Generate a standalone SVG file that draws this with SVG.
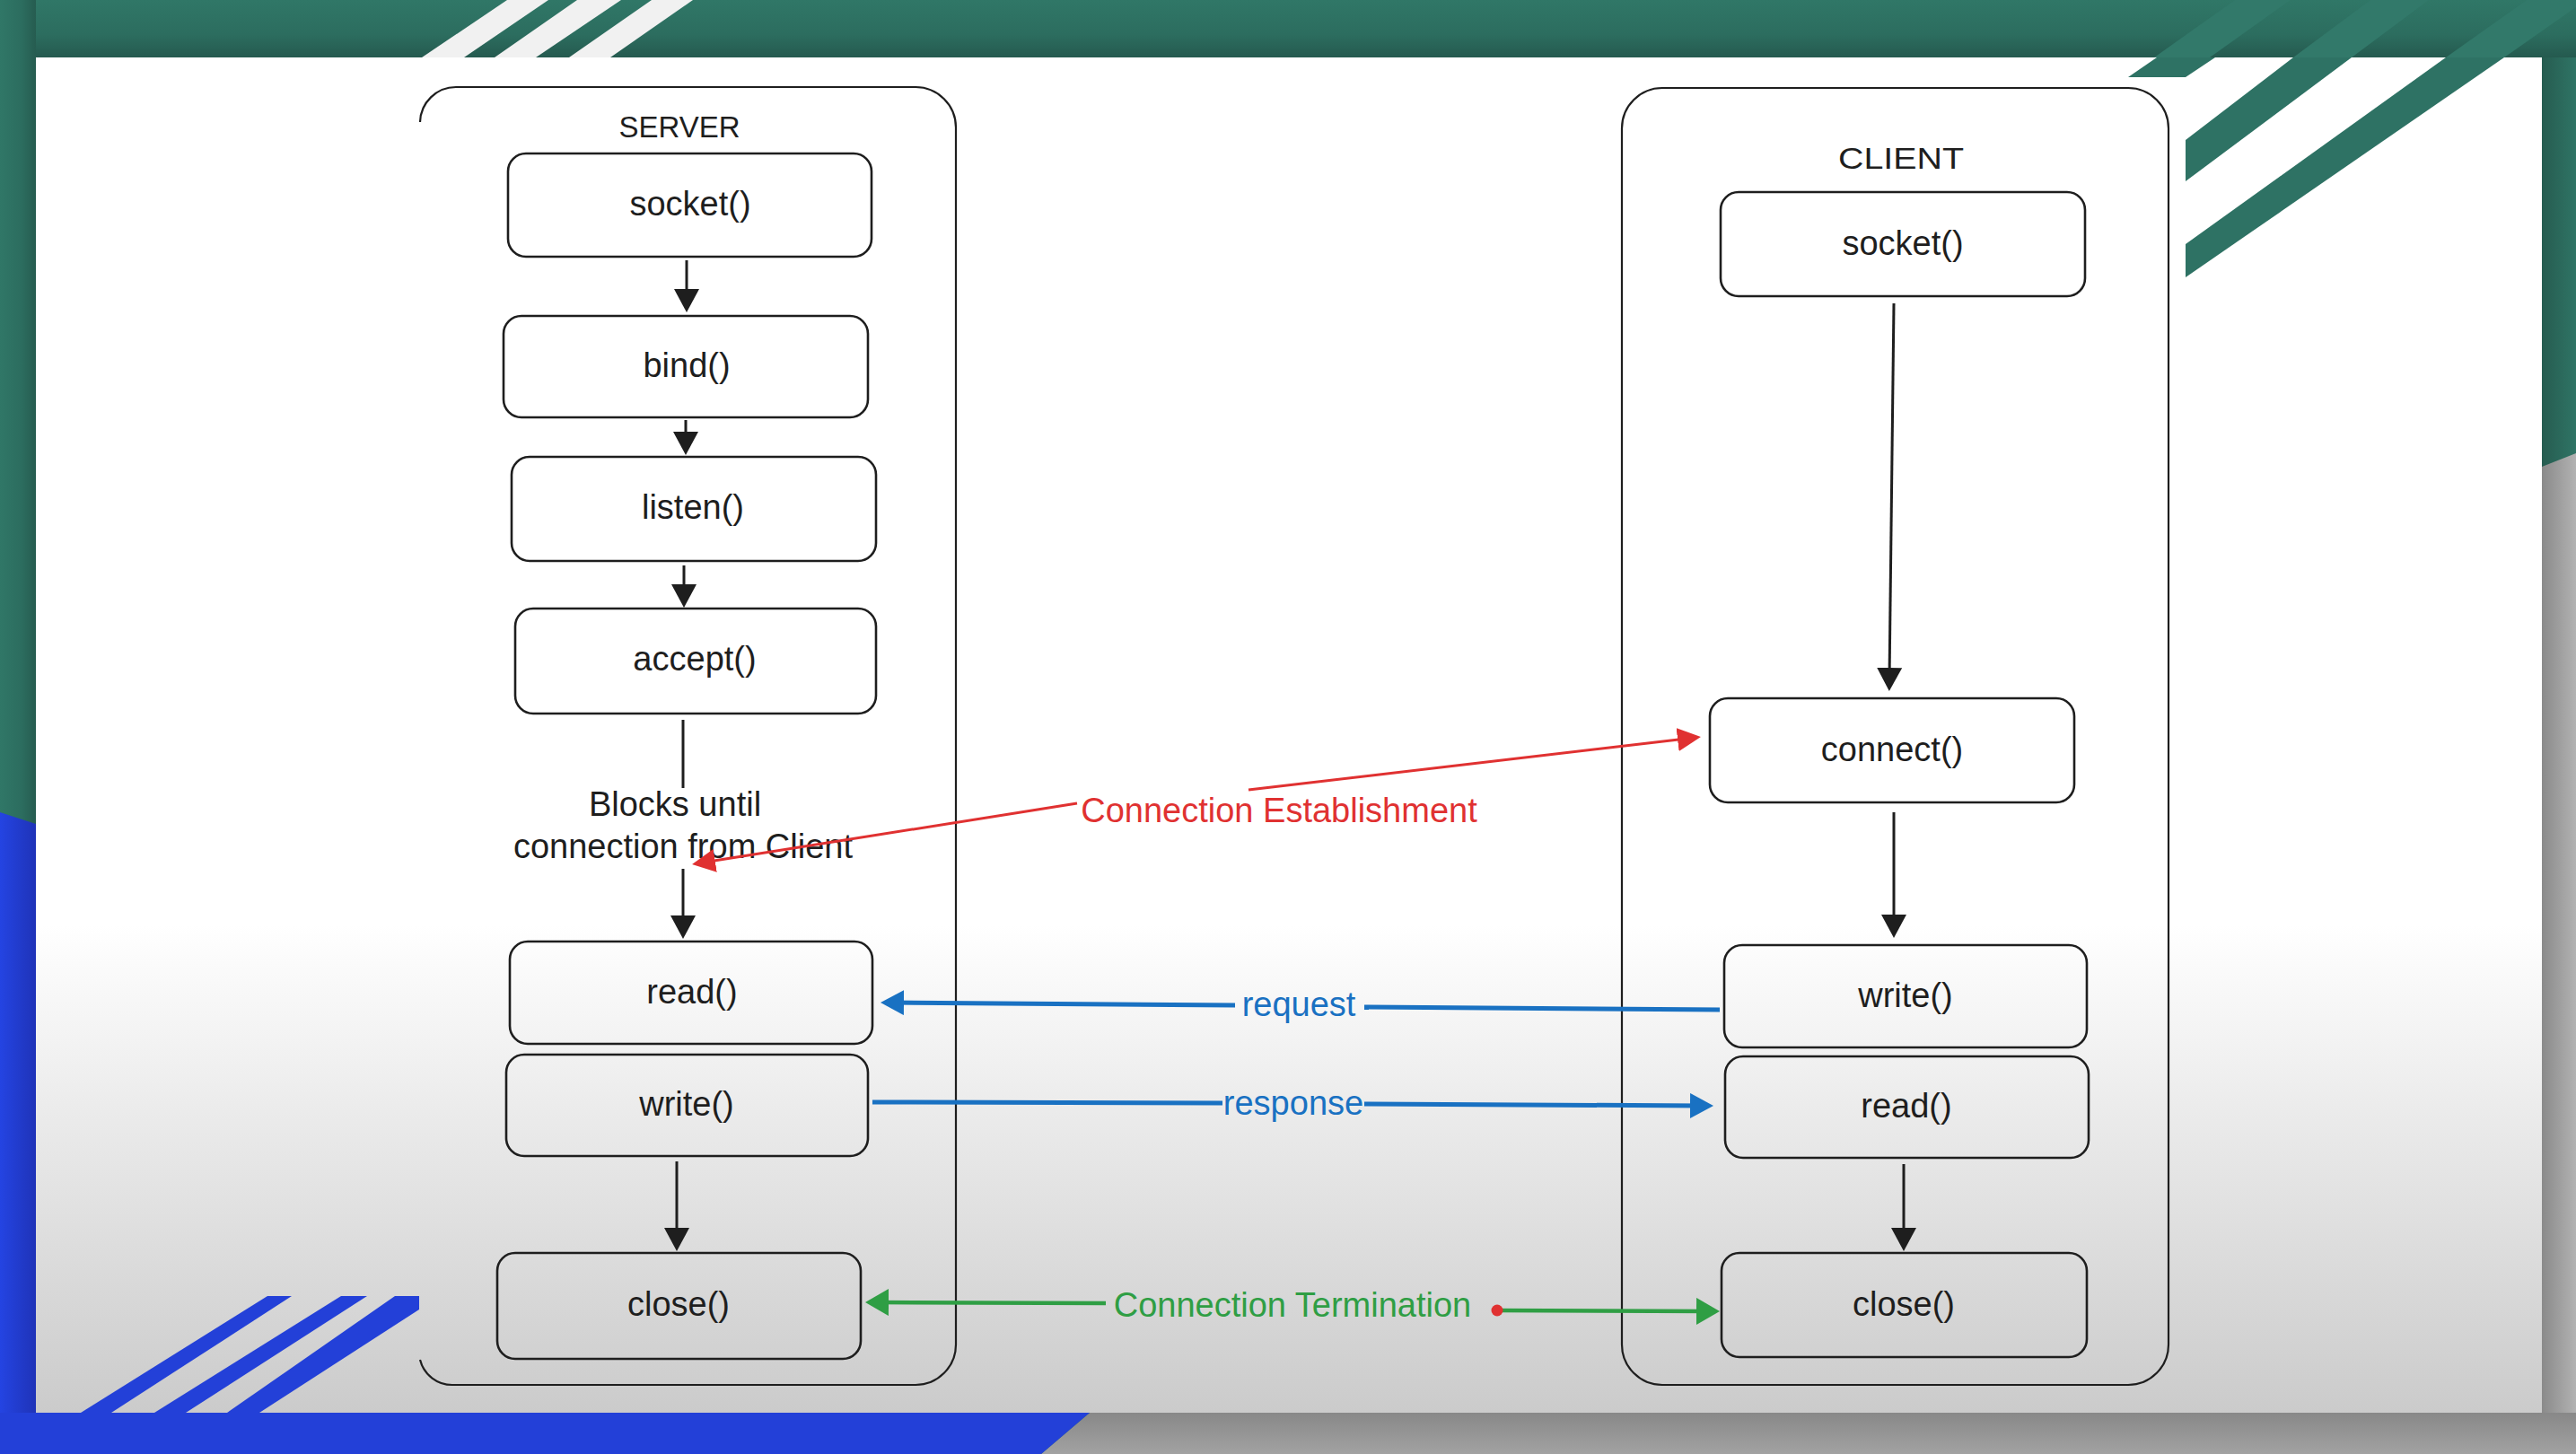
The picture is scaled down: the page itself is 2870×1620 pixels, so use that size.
<svg xmlns="http://www.w3.org/2000/svg" width="2870" height="1620" viewBox="0 0 2870 1620">
<defs>
<linearGradient id="panelGrad" x1="0" y1="64" x2="0" y2="1574" gradientUnits="userSpaceOnUse">
<stop offset="0" stop-color="#ffffff"/>
<stop offset="0.64" stop-color="#ffffff"/>
<stop offset="1" stop-color="#cbcbcb"/>
</linearGradient>
<linearGradient id="topBand" x1="0" y1="0" x2="0" y2="64" gradientUnits="userSpaceOnUse">
<stop offset="0" stop-color="#307767"/>
<stop offset="0.6" stop-color="#2c6d5f"/>
<stop offset="1" stop-color="#255a4f"/>
</linearGradient>
<linearGradient id="leftBand" x1="0" y1="0" x2="40" y2="0" gradientUnits="userSpaceOnUse">
<stop offset="0" stop-color="#307767"/>
<stop offset="0.6" stop-color="#2c6d5f"/>
<stop offset="1" stop-color="#265c50"/>
</linearGradient>
<linearGradient id="rightGreen" x1="2832" y1="0" x2="2870" y2="0" gradientUnits="userSpaceOnUse">
<stop offset="0" stop-color="#265c50"/>
<stop offset="1" stop-color="#2f7465"/>
</linearGradient>
<linearGradient id="rightGrey" x1="2832" y1="0" x2="2870" y2="0" gradientUnits="userSpaceOnUse">
<stop offset="0" stop-color="#8a8a8a"/>
<stop offset="1" stop-color="#b2b2b2"/>
</linearGradient>
<linearGradient id="bottomGrey" x1="0" y1="1574" x2="0" y2="1620" gradientUnits="userSpaceOnUse">
<stop offset="0" stop-color="#888888"/>
<stop offset="1" stop-color="#a2a2a2"/>
</linearGradient>
<linearGradient id="blueLeft" x1="0" y1="0" x2="40" y2="0" gradientUnits="userSpaceOnUse">
<stop offset="0" stop-color="#2444e2"/>
<stop offset="1" stop-color="#1f33b8"/>
</linearGradient>
<marker id="ahBlack" viewBox="0 0 26 28" refX="14" refY="14" markerWidth="26" markerHeight="28" markerUnits="userSpaceOnUse" orient="auto">
<path d="M0,0 L26,14 L0,28 z" fill="#1e1e1e"/>
</marker>
<marker id="ahRed" viewBox="0 0 26 26" refX="14" refY="13" markerWidth="26" markerHeight="26" markerUnits="userSpaceOnUse" orient="auto">
<path d="M0,0 L26,13 L0,26 z" fill="#e03131"/>
</marker>
<marker id="ahBlue" viewBox="0 0 26 28" refX="14" refY="14" markerWidth="26" markerHeight="28" markerUnits="userSpaceOnUse" orient="auto">
<path d="M0,0 L26,14 L0,28 z" fill="#1971c2"/>
</marker>
<marker id="ahGreen" viewBox="0 0 26 30" refX="14" refY="15" markerWidth="26" markerHeight="30" markerUnits="userSpaceOnUse" orient="auto">
<path d="M0,0 L26,15 L0,30 z" fill="#2f9e44"/>
</marker>
</defs>
<style>
.box{fill:none;stroke:#1e1e1e;stroke-width:2.6}
.frame{fill:none;stroke:#1e1e1e;stroke-width:2.2}
.lbl{font-family:"Liberation Sans",Arial,sans-serif;font-size:38px;fill:#1e1e1e;text-anchor:middle;dominant-baseline:central}
.title{font-family:"Liberation Sans",Arial,sans-serif;font-size:33px;fill:#1e1e1e;text-anchor:middle;dominant-baseline:central}
.blk{fill:none;stroke:#1e1e1e;stroke-width:3}
.red{fill:none;stroke:#e03131;stroke-width:3}
.blue{fill:none;stroke:#1971c2;stroke-width:5}
.green{fill:none;stroke:#2f9e44;stroke-width:4.5}
.tred{fill:#e03131}
.tblue{fill:#1971c2}
.tgreen{fill:#2f9e44}
</style>

<!-- background frame -->
<rect x="0" y="0" width="2870" height="1620" fill="#2e7264"/>
<rect x="0" y="0" width="2870" height="64" fill="url(#topBand)"/>
<rect x="0" y="0" width="40" height="1620" fill="url(#leftBand)"/>
<rect x="2832" y="64" width="38" height="1510" fill="url(#rightGreen)"/>
<polygon points="0,905 40,918 40,1620 0,1620" fill="url(#blueLeft)"/>
<polygon points="2832,520 2870,505 2870,1620 2832,1620" fill="url(#rightGrey)"/>
<polygon points="1214,1574 2870,1574 2870,1620 1160,1620" fill="url(#bottomGrey)"/>
<polygon points="0,1574 1214,1574 1160,1620 0,1620" fill="#2340d8"/>
<!-- white stripes in top band -->
<g fill="#f1f1f1">
<polygon points="470,64 517,64 611,0 565,0"/>
<polygon points="551,64 597,64 692,0 643,0"/>
<polygon points="634,64 680,64 772,0 726,0"/>
</g>
<!-- subtle lighter stripes in top band (right) -->
<g fill="#32796a">
<polygon points="2400,64 2462,64 2552,0 2490,0"/>
<polygon points="2555,64 2620,64 2706,0 2641,0"/>
<polygon points="2725,64 2790,64 2870,8 2870,0 2815,0"/>
</g>

<!-- panel -->
<rect x="40" y="64" width="2792" height="1510" fill="url(#panelGrad)"/>

<!-- green stripes on panel (top right) -->
<g fill="#2e7264">
<polygon points="2371,86 2435,86 2468,64 2403,64"/>
<polygon points="2435,156 2555,64 2620,64 2435,202"/>
<polygon points="2435,272 2725,64 2790,64 2435,309"/>
</g>
<!-- blue stripes on panel (bottom left) -->
<g fill="#2340d8">
<polygon points="298,1444 325,1444 124,1574 90,1574"/>
<polygon points="380,1444 409,1444 207,1574 172,1574"/>
<polygon points="440,1444 467,1444 467,1459 289,1574 253,1574"/>
</g>

<!-- SERVER container -->
<g id="server">
<path class="frame" d="M468,136 A40,40 0 0 1 508,97 L1020,97 A45,45 0 0 1 1065,142 L1065,1498 A45,45 0 0 1 1020,1543 L505,1543 A37,37 0 0 1 468,1515"/>
<text class="title" x="757" y="141">SERVER</text>
</g>
<g id="s-socket"><rect class="box" x="566" y="171" width="405" height="115" rx="20"/><text class="lbl" x="769" y="227">socket()</text></g>
<g id="s-bind"><rect class="box" x="561" y="352" width="406" height="113" rx="20"/><text class="lbl" x="765" y="407">bind()</text></g>
<g id="s-listen"><rect class="box" x="570" y="509" width="406" height="116" rx="20"/><text class="lbl" x="772" y="565">listen()</text></g>
<g id="s-accept"><rect class="box" x="574" y="678" width="402" height="117" rx="20"/><text class="lbl" x="774" y="734">accept()</text></g>
<g id="s-read"><rect class="box" x="568" y="1049" width="404" height="114" rx="20"/><text class="lbl" x="771" y="1105">read()</text></g>
<g id="s-write"><rect class="box" x="564" y="1175" width="403" height="113" rx="20"/><text class="lbl" x="765" y="1230">write()</text></g>
<g id="s-close"><rect class="box" x="554" y="1396" width="405" height="118" rx="20"/><text class="lbl" x="756" y="1453">close()</text></g>

<!-- CLIENT container -->
<g id="client">
<rect class="frame" x="1807" y="98" width="609" height="1445" rx="45"/>
<text class="title" x="2118" y="176" textLength="140" lengthAdjust="spacingAndGlyphs">CLIENT</text>
</g>
<g id="c-socket"><rect class="box" x="1917" y="214" width="406" height="116" rx="20"/><text class="lbl" x="2120" y="271">socket()</text></g>
<g id="c-connect"><rect class="box" x="1905" y="778" width="406" height="116" rx="20"/><text class="lbl" x="2108" y="835">connect()</text></g>
<g id="c-write"><rect class="box" x="1921" y="1053" width="404" height="114" rx="20"/><text class="lbl" x="2123" y="1109">write()</text></g>
<g id="c-read"><rect class="box" x="1922" y="1177" width="405" height="113" rx="20"/><text class="lbl" x="2124" y="1232">read()</text></g>
<g id="c-close"><rect class="box" x="1918" y="1396" width="407" height="116" rx="20"/><text class="lbl" x="2121" y="1453">close()</text></g>

<!-- connectors -->
<g id="connectors">
<path class="blk" d="M765,290 V336" marker-end="url(#ahBlack)"/>
<path class="blk" d="M764,468 V495" marker-end="url(#ahBlack)"/>
<path class="blk" d="M762,630 V665" marker-end="url(#ahBlack)"/>
<path class="blk" d="M761,802 V878"/>
<path class="blk" d="M761,968 V1034" marker-end="url(#ahBlack)"/>
<text class="lbl" x="752" y="896">Blocks until</text>
<text class="lbl" x="761" y="943">connection from Client</text>
<path class="blk" d="M754,1294 V1382" marker-end="url(#ahBlack)"/>
<path class="blk" d="M2110,338 L2105,758" marker-end="url(#ahBlack)"/>
<path class="blk" d="M2110,905 V1033" marker-end="url(#ahBlack)"/>
<path class="blk" d="M2121,1297 V1382" marker-end="url(#ahBlack)"/>

<path class="red" d="M1391,880 L1883,822.4" marker-end="url(#ahRed)"/>
<path class="red" d="M1200,895 L782.9,961.1" marker-end="url(#ahRed)"/>
<text class="lbl tred" x="1425" y="903">Connection Establishment</text>

<path class="blue" d="M1916,1125 L1520,1122"/>
<path class="blue" d="M1376,1120 L993,1117" marker-end="url(#ahBlue)"/>
<text class="lbl tblue" x="1447" y="1119">request</text>

<path class="blue" d="M972,1228 L1362,1229"/>
<path class="blue" d="M1520,1230 L1897,1232" marker-end="url(#ahBlue)"/>
<text class="lbl tblue" x="1441" y="1229">response</text>

<path class="green" d="M1232,1452 L976,1451" marker-end="url(#ahGreen)"/>
<path class="green" d="M1668,1460 L1904,1461" marker-end="url(#ahGreen)"/>
<text class="lbl tgreen" x="1440" y="1454">Connection Termination</text>
<circle cx="1668" cy="1460" r="6.5" fill="#e03131"/>
</g>
</svg>
